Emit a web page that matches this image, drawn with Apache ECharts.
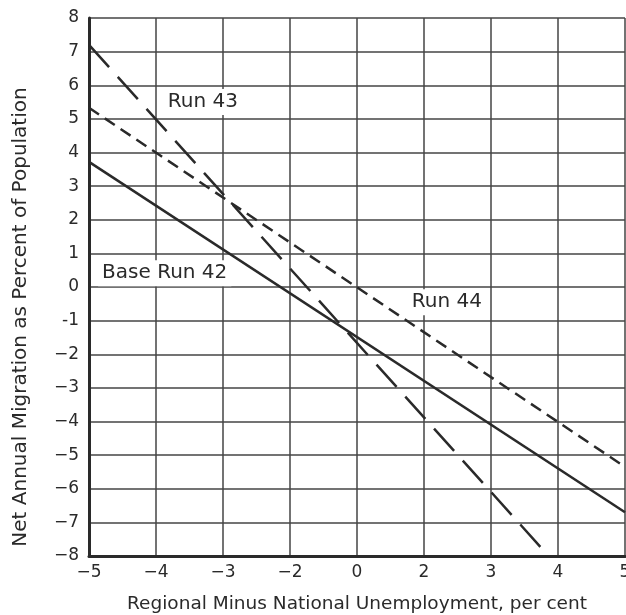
<!DOCTYPE html>
<html>
<head>
<meta charset="utf-8">
<script src="https://cdn.jsdelivr.net/npm/echarts@6/dist/echarts.min.js"></script>
<style>html,body{margin:0;padding:0;background:#fff}#c{width:626px;height:615px}</style>
</head>
<body>
<div id="c"></div>
<script>
// Tick labels as printed on the x axis (evenly spaced positions 0..8)
var xTickLabels = ['\u22125', '\u22124', '\u22123', '\u22122', '0', '2', '3', '4', '5'];
var yTickLabels = {'8':'8','7':'7','6':'6','5':'5','4':'4','3':'3','2':'2','1':'1','0':'0','-1':'-1','-2':'\u22122','-3':'\u22123','-4':'\u22124','-5':'\u22125','-6':'\u22126','-7':'\u22127','-8':'\u22128'};

// Series: [x position index, value]
var baseRun42 = [[0, 3.72], [8, -6.7]];
var run43 = [[0, 7.2], [6.86, -8]];
var run44 = [[0, 5.33], [8, -5.35]];

// Annotation labels: [x position index, value, text]
var annotations = [
  [1.7, 5.5, 'Run 43'],
  [1.13, 0.41, 'Base Run 42'],
  [5.34, -0.45, 'Run 44']
];

var FONT = 'DejaVu Sans';
var INK = '#2a2a2a';
var chart = echarts.init(document.getElementById('c'));
chart.setOption({
  animation: false,
  backgroundColor: '#fff',
  grid: {left: 89, right: 1, top: 18, bottom: 59, containLabel: false, outerBoundsMode: 'none'},
  xAxis: {
    type: 'value', min: 0, max: 8, interval: 1,
    name: 'Regional Minus National Unemployment, per cent',
    nameLocation: 'middle', nameGap: 39,
    nameTextStyle: {fontFamily: FONT, fontSize: 18.5, color: INK},
    axisLine: {show: true, onZero: false, lineStyle: {color: INK, width: 3}},
    axisTick: {show: false},
    axisLabel: {fontFamily: FONT, fontSize: 17, color: INK, margin: 8, hideOverlap: false,
      formatter: function (v) { return xTickLabels[Math.round(v)] || ''; }},
    splitLine: {show: true, lineStyle: {color: '#444', width: 1.5}}
  },
  yAxis: {
    type: 'value', min: -8, max: 8, interval: 1,
    name: 'Net Annual Migration as Percent of Population',
    nameLocation: 'middle', nameGap: 58,
    nameTextStyle: {fontFamily: FONT, fontSize: 20, color: INK, padding: [0, 60, 0, 0]},
    axisLine: {show: true, onZero: false, lineStyle: {color: INK, width: 3}},
    axisTick: {show: false},
    axisLabel: {fontFamily: FONT, fontSize: 17, color: INK, margin: 10,
      formatter: function (v) { return yTickLabels[String(v)] || ''; }},
    splitLine: {show: true, lineStyle: {color: '#444', width: 1.5}}
  },
  series: [
    {type: 'line', data: baseRun42, symbol: 'none', lineStyle: {color: INK, width: 2.5, type: 'solid'}, z: 3},
    {type: 'line', data: run43, symbol: 'none', lineStyle: {color: INK, width: 2.5, type: [30, 13]}, z: 3},
    {type: 'line', data: run44, symbol: 'none', lineStyle: {color: INK, width: 2.5, type: [12, 7]}, z: 3},
    {type: 'scatter', symbolSize: 0, z: 5, silent: true,
      data: annotations.map(function (a) { return {value: [a[0], a[1]], name: a[2]}; }),
      label: {show: true, position: 'inside', formatter: function (p) { return p.name; },
        fontFamily: FONT, fontSize: 20, color: INK, opacity: 1, backgroundColor: '#fff', padding: [3, 4]}
    }
  ]
});
</script>
</body>
</html>
